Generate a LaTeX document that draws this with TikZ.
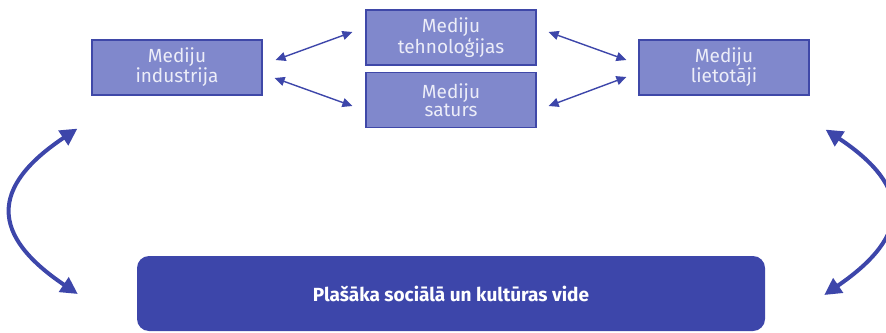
\documentclass[tikz,border=0pt]{standalone}
\usepackage{fontspec}
\setmainfont{Fira Sans}
\usetikzlibrary{arrows.meta}
\definecolor{boxfill}{HTML}{8088CC}
\definecolor{boxline}{HTML}{3F48A8}
\definecolor{boxtext}{HTML}{ECEDF8}
\definecolor{dark}{HTML}{3D46AA}
\tikzset{
  mbox/.style={draw=boxline, line width=1.2pt, fill=boxfill, text=boxtext,
    minimum width=170pt, minimum height=55pt, inner sep=0pt, align=center,
    font=\fontsize{19}{18.5}\selectfont},
  envbox/.style={fill=dark, text=white, rounded corners=12pt,
    minimum width=628pt, minimum height=75pt, inner sep=0pt,
    font=\fontsize{19}{20}\selectfont\bfseries},
  sarr/.style={draw=dark, line width=1.4pt, {Triangle[length=10pt,width=9pt]}-{Triangle[length=10pt,width=9pt]}},
  carr/.style={draw=dark, line width=4pt, {Triangle[length=17pt,width=17pt]}-{Triangle[length=17pt,width=17pt]}}
}
\begin{document}
\begin{tikzpicture}[x=1pt,y=-1pt]
\useasboundingbox (0,0) rectangle (886,332);
\node[mbox] (ind) at (177,67.5) {Mediju\\industrija};
\node[mbox] (teh) at (451,37.5) {Mediju\\tehnoloģijas};
\node[mbox] (sat) at (451,100) {Mediju\\saturs};
\node[mbox] (lie) at (724,67.5) {Mediju\\lietotāji};
\node[envbox] (env) at (451,293.5) {Plašāka sociālā un kultūras vide};
\draw[sarr] ([shift={(13,-7.5)}]ind.east) -- ([shift={(-13,-5.5)}]teh.west);
\draw[sarr] ([shift={(12,10.5)}]ind.east) -- ([shift={(-13,6)}]sat.west);
\draw[sarr] ([shift={(12,-5.5)}]teh.east) -- ([shift={(-12,-7.5)}]lie.west);
\draw[sarr] ([shift={(12,6)}]sat.east) -- ([shift={(-12,9.5)}]lie.west);
\draw[carr] ([shift={(-14,33)}]ind.south west) .. controls (-10,187) and (-10,235) .. ([shift={(-59,0.5)}]env.west);
\draw[carr] ([shift={(16,34)}]lie.south east) .. controls (912,187) and (912,235) .. ([shift={(59,1.5)}]env.east);
\end{tikzpicture}
\end{document}
